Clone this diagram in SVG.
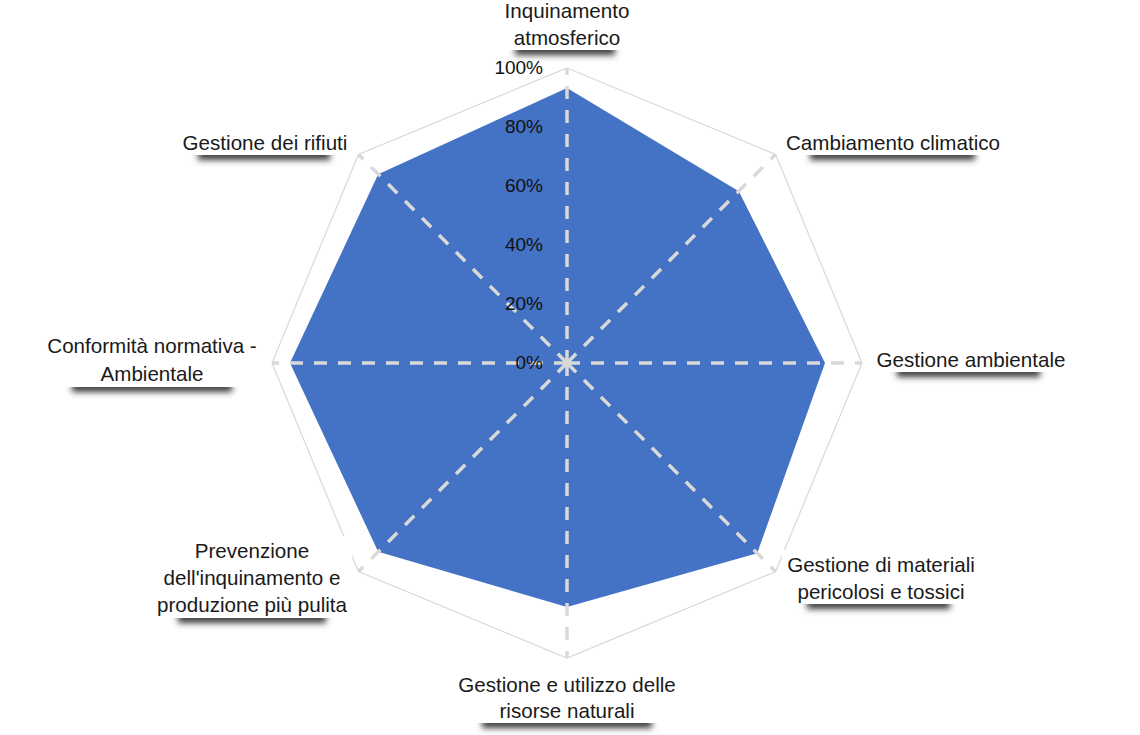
<svg xmlns="http://www.w3.org/2000/svg" width="1140" height="735" viewBox="0 0 1140 735">
<style>
.lbl{font-family:"Liberation Sans",Arial,sans-serif;font-size:20.6px;fill:#1a1a1a;text-anchor:middle}
.tick{font-family:"Liberation Sans",Arial,sans-serif;font-size:19px;fill:#111;text-anchor:end}
.spoke{stroke:#d9d9d9;stroke-width:3.5;stroke-dasharray:13 11;fill:none}
.shd{fill:#3a3a3a;filter:url(#blur)}
.box{fill:#fff}
</style>
<defs>
<filter id="blur" x="-20%" y="-150%" width="140%" height="400%"><feGaussianBlur stdDeviation="3.2"/></filter>
</defs>
<rect width="1140" height="735" fill="#fff"/>
<g id="grid">
<polygon points="567,68 775.6,154.4 862,363 775.6,571.6 567,658 358.4,571.6 272,363 358.4,154.4" fill="none" stroke="#d9d9d9" stroke-width="1.2"/>
</g>
<g id="series">
<polygon points="567,88 738.8,191.2 825,363 757.2,553.2 567,607 378.2,551.8 290,363 378.2,174.2" fill="#4472c4"/>
</g>
<g id="connectors">
<line class="spoke" x1="567" y1="363" x2="567" y2="68"/>
<line class="spoke" x1="567" y1="363" x2="775.6" y2="154.4"/>
<line class="spoke" x1="567" y1="363" x2="862" y2="363"/>
<line class="spoke" x1="567" y1="363" x2="775.6" y2="571.6"/>
<line class="spoke" x1="567" y1="363" x2="567" y2="658"/>
<line class="spoke" x1="567" y1="363" x2="358.4" y2="571.6"/>
<line class="spoke" x1="567" y1="363" x2="272" y2="363"/>
<line class="spoke" x1="567" y1="363" x2="358.4" y2="154.4"/>
</g>
<g id="ticks">
<text class="tick" x="543" y="74">100%</text>
<text class="tick" x="543" y="133">80%</text>
<text class="tick" x="543" y="192">60%</text>
<text class="tick" x="543" y="251">40%</text>
<text class="tick" x="543" y="310">20%</text>
<text class="tick" x="543" y="369">0%</text>
</g>
<g id="label-inquinamento">
<rect class="shd" x="515" y="45" width="100" height="10"/>
<rect class="box" x="498" y="0" width="138" height="50"/>
<text class="lbl" x="567" y="18">Inquinamento</text>
<text class="lbl" x="567" y="45">atmosferico</text>
</g>
<g id="label-cambiamento">
<rect class="shd" x="810" y="150" width="165" height="10"/>
<rect class="box" x="781" y="128" width="224" height="27"/>
<text class="lbl" x="893" y="150">Cambiamento climatico</text>
</g>
<g id="label-ambientale">
<rect class="shd" x="897" y="367" width="143" height="10"/>
<rect class="box" x="872" y="345" width="198" height="27"/>
<text class="lbl" x="971" y="367">Gestione ambientale</text>
</g>
<g id="label-materiali">
<rect class="shd" x="807" y="599" width="143" height="10"/>
<rect class="box" x="782" y="550" width="198" height="54"/>
<text class="lbl" x="881" y="572">Gestione di materiali</text>
<text class="lbl" x="881" y="599">pericolosi e tossici</text>
</g>
<g id="label-risorse">
<rect class="shd" x="482" y="718" width="170" height="10"/>
<rect class="box" x="455" y="670" width="225" height="53"/>
<text class="lbl" x="567" y="692">Gestione e utilizzo delle</text>
<text class="lbl" x="567" y="718">risorse naturali</text>
</g>
<g id="label-prevenzione">
<rect class="shd" x="178" y="613" width="148" height="10"/>
<rect class="box" x="152" y="536" width="200" height="82"/>
<text class="lbl" x="252" y="558">Prevenzione</text>
<text class="lbl" x="252" y="585">dell'inquinamento e</text>
<text class="lbl" x="252" y="612">produzione più pulita</text>
</g>
<g id="label-conformita">
<rect class="shd" x="72" y="382" width="160" height="10"/>
<rect class="box" x="41" y="331" width="223" height="56"/>
<text class="lbl" x="152" y="353">Conformità normativa -</text>
<text class="lbl" x="152" y="381">Ambientale</text>
</g>
<g id="label-rifiuti">
<rect class="shd" x="198" y="150" width="132" height="10"/>
<rect class="box" x="177" y="128" width="176" height="27"/>
<text class="lbl" x="265" y="150">Gestione dei rifiuti</text>
</g>
</svg>
